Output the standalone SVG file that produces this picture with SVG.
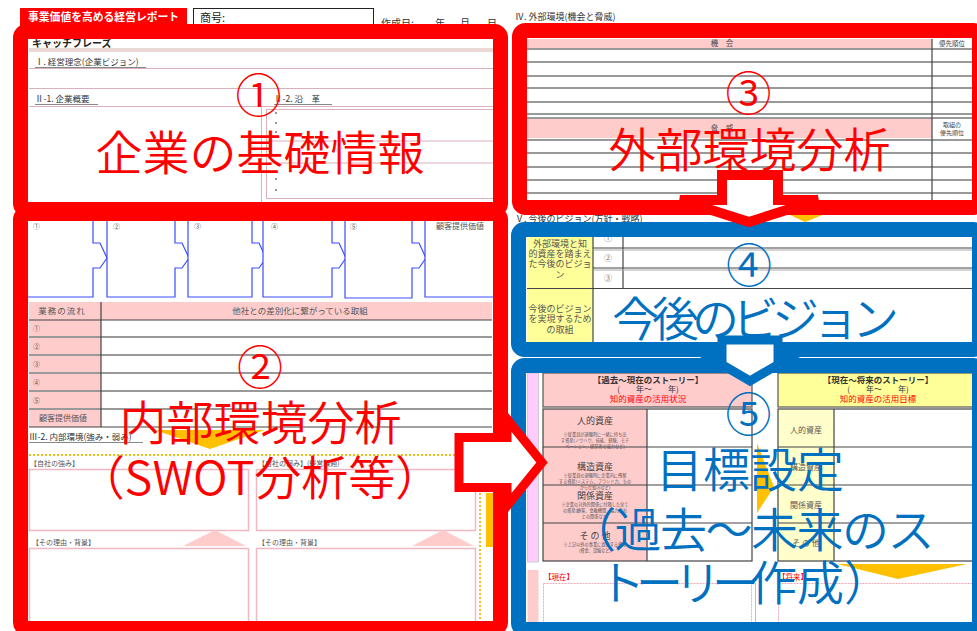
<svg xmlns="http://www.w3.org/2000/svg" width="977" height="631" viewBox="0 0 977 631">
<style>
text{font-family:"Noto Sans CJK JP","Noto Sans",sans-serif}
.s{font-size:8.5px;fill:#333}
.t{font-size:7px;fill:#555}
.n{font-size:4.2px;fill:#555;text-anchor:middle}
.c{text-anchor:middle}
.pk{fill:#FFCCCC}
.gl{stroke:#999;stroke-width:2;fill:none}
.dl{stroke:#444;stroke-width:1.2;fill:none}
.pl{stroke:#D9B0BC;stroke-width:1;fill:none}
.pb{fill:#fff;stroke:#F2B8C2;stroke-width:1.5}
.flow{fill:#fff;stroke:#3a4cff;stroke-width:1.2}
.rb{fill:none;stroke:#FF0000;stroke-width:15}
.bb{fill:none;stroke:#0070C0;stroke-width:15}
.big{font-size:47px;text-anchor:middle;font-weight:350}
.num{font-size:46px;text-anchor:middle;font-weight:350}
.red{fill:#FF0000}
.blue{fill:#0070C0}
.or{fill:#FFC000}
.dot{stroke:#E6C21A;stroke-width:2;stroke-dasharray:2 2;fill:none}
</style>
<rect width="977" height="631" fill="#fff"/>

<g id="form">
  <!-- header -->
  <rect x="20" y="8" width="167" height="20" fill="#FF0000"/>
  <text x="28" y="21" font-size="10.8" font-weight="bold" fill="#fff">事業価値を高める経営レポート</text>
  <rect x="193.5" y="8.5" width="180" height="20" fill="#fff" stroke="#222"/>
  <text x="200" y="22" font-size="11" fill="#222">商号:</text>
  <text x="381" y="27" font-size="10" fill="#333">作成日:</text>
  <text x="435" y="27" font-size="10" fill="#333">年</text>
  <text x="460" y="27" font-size="10" fill="#333">月</text>
  <text x="487" y="27" font-size="10" fill="#333">日</text>
  <text x="515" y="20" font-size="9" fill="#333">Ⅳ. 外部環境(機会と脅威)</text>

  <!-- section 1 form -->
  <text x="32" y="47" font-size="10" font-weight="bold" fill="#222">キャッチフレーズ</text>
  <line x1="29" y1="49" x2="493" y2="49" stroke="#D8B0A8" stroke-width="1"/>
  <line x1="29" y1="51" x2="493" y2="51" stroke="#D8B0A8" stroke-width="1"/>
  <text x="35" y="65" class="s">Ⅰ. 経営理念(企業ビジョン)</text>
  <line x1="35" y1="67.5" x2="146" y2="67.5" stroke="#555" stroke-width="0.7"/>
  <line x1="29" y1="68.5" x2="493" y2="68.5" class="pl"/>
  <line x1="29" y1="88.5" x2="493" y2="88.5" class="pl"/>
  <text x="35" y="102" class="s">Ⅱ-1. 企業概要</text>
  <line x1="35" y1="104.5" x2="98" y2="104.5" stroke="#555" stroke-width="0.7"/>
  <text x="274" y="102" class="s">Ⅱ-2. 沿　革</text>
  <line x1="274" y1="104.5" x2="332" y2="104.5" stroke="#555" stroke-width="0.7"/>
  <line x1="29" y1="106.5" x2="493" y2="106.5" class="pl"/>
  <line x1="261.5" y1="106.5" x2="261.5" y2="202" class="pl"/>
  <rect x="266.5" y="109.5" width="230" height="89" class="pl"/>
  <line x1="266" y1="141" x2="493" y2="141" class="pl"/>
  <line x1="266" y1="163" x2="493" y2="163" class="pl"/>
  <g fill="#666"><circle cx="276" cy="113" r="0.9"/><circle cx="276" cy="123" r="0.9"/><circle cx="276" cy="132" r="0.9"/><circle cx="276" cy="179" r="0.9"/><circle cx="276" cy="190" r="0.9"/></g>

  <!-- section 2 form -->
  <path class="flow" d="M20,214 V297 H93 V268 H100 L107,258 L100,243 H93 V214"/>
  <path class="flow" d="M107,214 V297 H175 V268 H182 L189,258 L182,243 H175 V214"/>
  <path class="flow" d="M188,214 V297 H252 V268 H259 L266,258 L259,243 H252 V214"/>
  <path class="flow" d="M263,214 V297 H332 V268 H339 L346,258 L339,243 H332 V214"/>
  <path class="flow" d="M345,214 V298 H412 V268 H419 L426,258 L419,243 H412 V214"/>
  <path class="flow" d="M425,214 V297 H500"/>
  <g class="t"><text x="33" y="229">①</text><text x="113" y="229">②</text><text x="194" y="229">③</text><text x="271" y="229">④</text><text x="350" y="229">⑤</text><text x="436" y="229" font-size="8">顧客提供価値</text></g>

  <rect x="29" y="302" width="463" height="18" class="pk"/>
  <rect x="29" y="320" width="72" height="107" class="pk"/>
  <text x="62" y="314" class="c" font-size="8.5" fill="#555" letter-spacing="1">業務の流れ</text>
  <text x="300" y="314" class="c" font-size="8.5" fill="#555">他社との差別化に繋がっている取組</text>
  <line x1="29" y1="320" x2="492" y2="320" class="dl"/>
  <line x1="29" y1="337" x2="492" y2="337" class="gl"/>
  <line x1="29" y1="355" x2="492" y2="355" class="gl"/>
  <line x1="29" y1="373" x2="492" y2="373" class="gl"/>
  <line x1="29" y1="391" x2="492" y2="391" class="gl"/>
  <line x1="29" y1="409" x2="492" y2="409" class="gl"/>
  <line x1="29" y1="427" x2="492" y2="427" class="dl"/>
  <line x1="101" y1="302" x2="101" y2="427" class="dl"/>
  <g class="t"><text x="33" y="331">①</text><text x="33" y="349">②</text><text x="33" y="367">③</text><text x="33" y="385">④</text><text x="33" y="403">⑤</text><text x="63" y="421" class="c" font-size="8">顧客提供価値</text></g>

  <polygon class="or" points="155,430 265,430 210,449"/>
  <text x="29" y="440" class="s">Ⅲ-2. 内部環境(強み・弱み)</text>
  <line x1="29" y1="442.5" x2="143" y2="442.5" stroke="#555" stroke-width="0.7"/>
  <line x1="29" y1="455" x2="455" y2="455" class="dot"/>
  <line x1="480" y1="493" x2="480" y2="621" class="dot"/>
  <rect x="486" y="493" width="8" height="54" class="or"/>
  <text x="30" y="466" class="t" font-size="8">【自社の強み】</text>
  <text x="258" y="466" class="t" font-size="8">【自社の弱み】(経営課題)</text>
  <rect x="29.5" y="469.5" width="219" height="61" class="pb"/>
  <rect x="256.5" y="469.5" width="219" height="61" class="pb"/>
  <polygon class="pk" points="183,546 215,530 246,546"/>
  <polygon class="pk" points="412,546 443,530 474,546"/>
  <text x="32" y="545" class="t" font-size="8">【その理由・背景】</text>
  <text x="258" y="545" class="t" font-size="8">【その理由・背景】</text>
  <rect x="29.5" y="548.5" width="219" height="80" class="pb"/>
  <rect x="256.5" y="548.5" width="219" height="80" class="pb"/>

  <!-- section 3 form -->
  <rect x="527" y="39" width="405" height="9.5" class="pk"/>
  <rect x="527" y="119" width="405" height="19" class="pk"/>
  <g class="gl">
    <line x1="527" y1="49" x2="972" y2="49"/><line x1="527" y1="62" x2="972" y2="62"/>
    <line x1="527" y1="76" x2="972" y2="76"/><line x1="527" y1="88" x2="972" y2="88"/>
    <line x1="527" y1="102" x2="972" y2="102"/><line x1="527" y1="114" x2="972" y2="114"/>
    <line x1="527" y1="118" x2="972" y2="118"/>
    <line x1="527" y1="140" x2="972" y2="140"/><line x1="527" y1="153" x2="972" y2="153"/>
    <line x1="527" y1="167" x2="972" y2="167"/><line x1="527" y1="180" x2="972" y2="180"/>
    <line x1="527" y1="193" x2="972" y2="193"/>
  </g>
  <line x1="932" y1="39" x2="932" y2="200" class="dl"/>
  <text x="722" y="46" class="c" font-size="7.5" fill="#444">機　会</text>
  <text x="952" y="46" class="c" font-size="6.5" fill="#444">優先順位</text>
  <text x="722" y="131" class="c" font-size="7.5" fill="#444">脅　威</text>
  <text x="952" y="127" class="c" font-size="6" fill="#444">取組の</text>
  <text x="952" y="135" class="c" font-size="6" fill="#444">優先順位</text>
  <polygon class="or" points="775,208 840,208 805,222"/>
  <text x="515" y="222" font-size="9" fill="#333">Ⅴ. 今後のビジョン(方針・戦略)</text>

  <!-- section 4 form -->
  <rect x="527" y="237" width="66" height="51" fill="#FFFF99"/>
  <rect x="527" y="289" width="66" height="53" fill="#FFFF99"/>
  <g class="dl">
    <line x1="593" y1="248" x2="972" y2="248"/><line x1="593" y1="268" x2="972" y2="268"/>
    <line x1="527" y1="288.5" x2="972" y2="288.5"/>
    <line x1="593" y1="237" x2="593" y2="342"/><line x1="623" y1="237" x2="623" y2="288"/>
  </g>
  <line x1="593" y1="250" x2="972" y2="250" stroke="#aaa" stroke-width="1"/>
  <line x1="593" y1="270" x2="972" y2="270" stroke="#aaa" stroke-width="1"/>
  <g class="c" font-size="9" fill="#555">
    <text x="560" y="246.5">外部環境と知</text>
    <text x="560" y="256.5">的資産を踏まえ</text>
    <text x="560" y="266.5">た今後のビジョ</text>
    <text x="560" y="277.5">ン</text>
    <text x="560" y="311.5">今後のビジョン</text>
    <text x="560" y="321.5">を実現するため</text>
    <text x="560" y="333">の取組</text>
  </g>
  <g class="c" font-size="8" fill="#777"><text x="608" y="241">①</text><text x="608" y="261">②</text><text x="608" y="281">③</text></g>

  <!-- section 5 form -->
  <rect x="527.5" y="373" width="11" height="189" fill="#FFCCFF" stroke="#ccc" stroke-width="1"/>
  <rect x="527.5" y="570" width="11" height="55" class="pk"/>
  <rect x="543" y="373" width="209" height="34" class="pk" stroke="#555" stroke-width="1.2"/>
  <rect x="543" y="409" width="104" height="152" class="pk"/>
  <g class="dl">
    <rect x="543" y="409" width="209" height="152"/>
    <line x1="647" y1="409" x2="647" y2="561"/>
    <line x1="543" y1="447" x2="752" y2="447"/><line x1="543" y1="485" x2="752" y2="485"/><line x1="543" y1="523" x2="752" y2="523"/>
  </g>
  <text x="648" y="383" class="c" font-size="8.5" font-weight="bold" fill="#333">【過去～現在のストーリー】</text>
  <text x="648" y="392" class="c" font-size="8" fill="#333">(　　年～　　年)</text>
  <text x="648" y="402" class="c" font-size="8.5" fill="#FF0000">知的資産の活用状況</text>
  <g class="c" font-size="9" fill="#444">
    <text x="595" y="424">人的資産</text><text x="595" y="470">構造資産</text><text x="595" y="499">関係資産</text><text x="595" y="539">そ の 他</text>
  </g>
  <text x="595" y="436" class="n">※従業員が退職時に一緒に持ち出</text>
  <text x="595" y="442" class="n">す資産(ノウハウ、技能、経験、モチ</text>
  <text x="595" y="448" class="n">ベーション、経営者の能力など)</text>
  <text x="595" y="477" class="n">※従業員の退職時に企業内に残留</text>
  <text x="595" y="483" class="n">する資産(システム、ブランド力、もの</text>
  <text x="595" y="489" class="n">から仕組みなど)</text>
  <text x="595" y="506" class="n">※企業の対外的関係に付随した全て</text>
  <text x="595" y="512" class="n">の資産(顧客、金融機関、協力会社</text>
  <text x="595" y="518" class="n">との関係など)</text>
  <text x="595" y="546" class="n">※上記以外の事業に貢献する資産</text>
  <text x="595" y="552" class="n">(資金、設備など)</text>

  <rect x="778" y="373" width="196" height="34" fill="#FFFF99" stroke="#555" stroke-width="1.2"/>
  <rect x="778" y="409" width="56" height="152" fill="#FFFFCC"/>
  <g class="dl">
    <rect x="778" y="409" width="196" height="152"/>
    <line x1="834" y1="409" x2="834" y2="561"/>
    <line x1="778" y1="447" x2="972" y2="447"/><line x1="778" y1="485" x2="972" y2="485"/><line x1="778" y1="523" x2="972" y2="523"/>
  </g>
  <text x="878" y="383" class="c" font-size="8.5" font-weight="bold" fill="#333">【現在～将来のストーリー】</text>
  <text x="878" y="392" class="c" font-size="8" fill="#333">(　　年～　　年)</text>
  <text x="878" y="402" class="c" font-size="8.5" fill="#FF0000">知的資産の活用目標</text>
  <g class="c" font-size="8" fill="#555">
    <text x="806" y="433">人的資産</text><text x="806" y="470">構造資産</text><text x="806" y="508">関係資産</text><text x="806" y="546">そ の 他</text>
  </g>
  <polygon class="or" points="757,443 774,487 757,513"/>
  <polygon class="or" points="837,564 967,564 898,579"/>
  <text x="544" y="580" font-size="7.5" fill="#FF0000">【現在】</text>
  <text x="778" y="580" font-size="7.5" fill="#FF0000">【将来】</text>
  <rect x="543.5" y="583.5" width="208" height="45" fill="none" stroke="#F0A8B4" stroke-dasharray="2 1"/>
  <rect x="778.5" y="583.5" width="200" height="45" fill="none" stroke="#F0A8B4" stroke-dasharray="2 1"/>
  <line x1="755.5" y1="583" x2="755.5" y2="631" stroke="#F0A8B4"/>
</g>

<g id="node1">
  <rect x="20.5" y="31.5" width="480" height="178" rx="6" class="rb"/>
</g>
<g id="node2">
  <rect x="20.5" y="213.5" width="480" height="415" rx="6" class="rb"/>
</g>
<g id="node3">
  <rect x="519.5" y="30.5" width="460" height="177" rx="6" class="rb"/>
</g>
<g id="node4">
  <rect x="518.5" y="229.5" width="461" height="120" rx="6" class="bb"/>
</g>
<g id="node5">
  <rect x="518.5" y="365.5" width="461" height="264" rx="6" class="bb"/>
</g>

<g id="connectors">
  <polygon points="722,175 778,175 778,200 818,200 749,222 680,200 722,200" fill="#fff" stroke="#FF0000" stroke-width="10"/>
  <polygon points="722,340 778,340 778,360 786,360 750,381 714,360 722,360" fill="#fff" stroke="#0070C0" stroke-width="9"/>
  <polygon points="459,437.5 507,437.5 507,419 542,462.5 507,506 507,487.5 459,487.5" fill="#fff" stroke="#FF0000" stroke-width="9"/>
</g>

<g id="labels">
  <text x="258.5" y="112" class="num red">①</text>
  <text x="260" y="170" class="big red">企業の基礎情報</text>
  <text x="260" y="384" class="num red">②</text>
  <text x="260.5" y="440" class="big red" font-size="48">内部環境分析</text>
  <text x="260" y="495" class="big red" font-size="48">（SWOT分析等）</text>
  <text x="748.5" y="110" class="num red">③</text>
  <text x="749.5" y="167" class="big red" font-size="48">外部環境分析</text>
  <text x="749" y="282" class="num blue">④</text>
  <text x="752" y="336" class="big blue" font-size="40" letter-spacing="-7">今後のビジョン</text>
  <text x="748.5" y="431" class="num blue">⑤</text>
  <text x="750" y="487" class="big blue">目標設定</text>
  <text x="751" y="547" class="big blue" letter-spacing="-1.5">（過去～未来のス</text>
  <text x="598" y="600" class="blue" font-size="47" font-weight="350"><tspan letter-spacing="-9">トーリー</tspan>作成）</text>
</g>
</svg>
